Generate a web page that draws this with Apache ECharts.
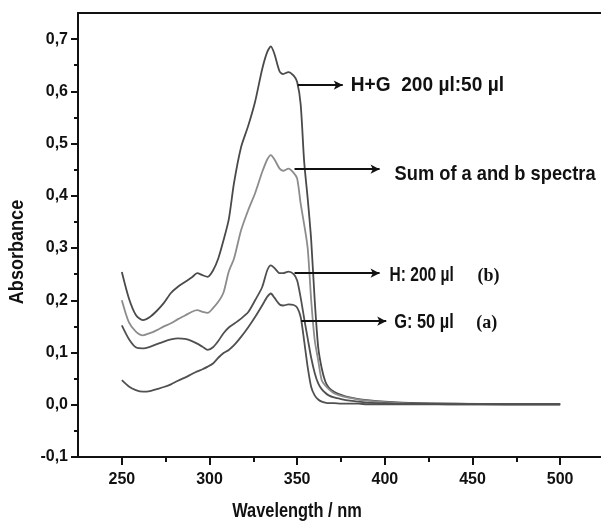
<!DOCTYPE html>
<html>
<head>
<meta charset="utf-8">
<script src="https://cdn.jsdelivr.net/npm/echarts@6/dist/echarts.min.js"></script>
<style>html,body{margin:0;padding:0;background:#fff}#c{width:601px;height:521px}</style>
</head>
<body>
<div id="c"></div>
<script>
// Wavelength grid (nm)
const wavelength = [250,254,258,262,266,270,274,278,282,286,290,293,296,299,302,305,308,311,314,318,322,326,330,333,335,337,340,342,345,348,350,352,354,356,358,360,362,364,366,368,371,375,380,385,390,400,410,420,440,470,500];
// H+G 200 µl:50 µl
const absHG = [0.254,0.204,0.172,0.162,0.168,0.180,0.195,0.214,0.226,0.235,0.244,0.252,0.248,0.245,0.257,0.280,0.315,0.355,0.425,0.493,0.533,0.580,0.642,0.676,0.686,0.672,0.638,0.633,0.637,0.630,0.618,0.575,0.465,0.395,0.315,0.200,0.110,0.070,0.045,0.033,0.025,0.019,0.014,0.011,0.009,0.006,0.004,0.003,0.002,0.001,0.001];
// Sum of a and b spectra
const absSum = [0.200,0.158,0.140,0.133,0.137,0.143,0.150,0.156,0.164,0.171,0.178,0.181,0.178,0.176,0.185,0.197,0.215,0.255,0.280,0.334,0.372,0.405,0.445,0.470,0.478,0.470,0.452,0.448,0.452,0.444,0.433,0.385,0.345,0.300,0.200,0.124,0.085,0.047,0.037,0.030,0.022,0.017,0.013,0.010,0.008,0.005,0.003,0.002,0.002,0.001,0.001];
// H: 200 µl (b)
const absH = [0.152,0.126,0.110,0.108,0.111,0.116,0.121,0.125,0.127,0.126,0.122,0.117,0.111,0.105,0.110,0.122,0.137,0.148,0.155,0.165,0.177,0.200,0.225,0.258,0.267,0.262,0.252,0.252,0.255,0.250,0.238,0.205,0.165,0.127,0.090,0.061,0.041,0.030,0.023,0.018,0.014,0.011,0.008,0.006,0.004,0.003,0.002,0.002,0.001,0.001,0.001];
// G: 50 µl (a)
const absG = [0.047,0.035,0.028,0.025,0.026,0.030,0.034,0.039,0.046,0.052,0.059,0.064,0.068,0.073,0.079,0.090,0.099,0.105,0.114,0.130,0.148,0.168,0.190,0.207,0.213,0.205,0.192,0.190,0.192,0.191,0.186,0.168,0.122,0.072,0.034,0.018,0.010,0.006,0.004,0.003,0.003,0.002,0.002,0.002,0.001,0.001,0.001,0.001,0.001,0.001,0.001];

// Tick values
const xMajorTicks = [250,300,350,400,450,500];
const xMinorTicks = [275,325,375,425,475,525];
const yMajorTicks = [-0.1,0.0,0.1,0.2,0.3,0.4,0.5,0.6,0.7];
const yMinorTicks = [-0.05,0.05,0.15,0.25,0.35,0.45,0.55,0.65];

// Annotation texts and arrows: [start wavelength, end wavelength, absorbance]
const annTexts = ['H+G  200 µl:50 µl', 'Sum of a and b spectra', 'H: 200 µl', 'G: 50 µl'];
const annTags  = ['', '', '(b)', '(a)'];
const annHG  = [350.3, 376.0, 0.612];
const annSum = [348.5, 397.0, 0.451];
const annH   = [348.5, 397.0, 0.252];
const annG   = [352.3, 400.8, 0.160];

const SANS = "'Liberation Sans',Arial,Helvetica,sans-serif";
const SERIF = "'Liberation Serif','Times New Roman',serif";

function pairs(ys){ return wavelength.map((w,i)=>[w, ys[i]]); }

function arrow(a){
  return {
    silent: true,
    symbol: ['none','arrow'],
    symbolSize: [7, 9],
    animation: false,
    label: { show: false },
    lineStyle: { color: '#111', width: 2, type: 'solid' },
    data: [[ { coord: [a[0], a[2]] }, { coord: [a[1], a[2]] } ]]
  };
}

const chart = echarts.init(document.getElementById('c'), null, { renderer: 'canvas' });

const lineSeries = (name, ys, color, ml) => ({
  name, type: 'line', data: pairs(ys), showSymbol: false, smooth: 0.25,
  lineStyle: { color, width: 1.8 }, itemStyle: { color }, animation: false,
  xAxisIndex: 0, yAxisIndex: 0, markLine: ml, z: 3
});

const axisFont = { fontFamily: SANS, fontWeight: 'bold', fontSize: 16, color: '#111' };

chart.setOption({
  backgroundColor: '#fff',
  animation: false,
  grid: { left: 78, top: 13, right: -3, bottom: 64, show: true, borderColor: '#111', borderWidth: 2, containLabel: false, outerBoundsMode: 'none' },
  xAxis: [
    { type: 'value', min: 225, max: 525, position: 'bottom',
      axisLine: { show: true, onZero: false, lineStyle: { color: '#111', width: 2 } },
      axisTick: { show: true, customValues: xMajorTicks, length: 8, lineStyle: { color: '#111', width: 2 } },
      axisLabel: Object.assign({ customValues: xMajorTicks, margin: 15 }, axisFont),
      splitLine: { show: false } },
    { type: 'value', min: 225, max: 525, position: 'bottom',
      axisLine: { show: false, onZero: false },
      axisTick: { show: true, customValues: xMinorTicks, length: 5, lineStyle: { color: '#111', width: 2 } },
      axisLabel: { show: false }, splitLine: { show: false } }
  ],
  yAxis: [
    { type: 'value', min: -0.1, max: 0.75, position: 'left',
      axisLine: { show: true, onZero: false, lineStyle: { color: '#111', width: 2 } },
      axisTick: { show: true, customValues: yMajorTicks, length: 7, lineStyle: { color: '#111', width: 2 } },
      axisLabel: Object.assign({ customValues: yMajorTicks, margin: 10,
        formatter: v => v.toFixed(1).replace('.', ',') }, axisFont),
      splitLine: { show: false } },
    { type: 'value', min: -0.1, max: 0.75, position: 'left',
      axisLine: { show: false, onZero: false },
      axisTick: { show: true, customValues: yMinorTicks, length: 4, lineStyle: { color: '#111', width: 2 } },
      axisLabel: { show: false }, splitLine: { show: false } }
  ],
  series: [
    lineSeries('H+G 200 µl:50 µl', absHG, '#4a4a4a', arrow(annHG)),
    lineSeries('Sum of a and b spectra', absSum, '#8c8c8c', arrow(annSum)),
    lineSeries('H: 200 µl (b)', absH, '#505050', arrow(annH)),
    lineSeries('G: 50 µl (a)', absG, '#505050', arrow(annG))
  ]
});

// Condensed-looking text labels placed relative to the arrow ends (computed through the axes)
const anns = [annHG, annSum, annH, annG];
const gapX  = [8, 15, 10, 8];
const dY    = [0, 5, 2, 1];
const scl   = [0.91, 0.87, 0.74, 0.78];
const tagDx = [0, 0, 98, 90];
const graphics = [];
anns.forEach((a, i) => {
  const p = chart.convertToPixel({ xAxisIndex: 0, yAxisIndex: 0 }, [a[1], a[2]]);
  graphics.push({ type: 'text', x: p[0] + gapX[i], y: p[1] + dY[i], scaleX: scl[i], z: 10,
    style: { text: annTexts[i], fontFamily: SANS, fontWeight: 'bold', fontSize: 21, fill: '#111', align: 'left', verticalAlign: 'middle' } });
  if (annTags[i]) {
    graphics.push({ type: 'text', x: p[0] + tagDx[i], y: p[1] + dY[i] + 1, z: 10,
      style: { text: annTags[i], fontFamily: SERIF, fontWeight: 'bold', fontSize: 18, fill: '#111', align: 'left', verticalAlign: 'middle' } });
  }
});
graphics.push({ type: 'text', x: 17, y: 252, rotation: Math.PI / 2, scaleX: 0.86,
  style: { text: 'Absorbance', fontFamily: SANS, fontWeight: 'bold', fontSize: 21, fill: '#111', align: 'center', verticalAlign: 'middle' } });
graphics.push({ type: 'text', x: 297, y: 511, scaleX: 0.78,
  style: { text: 'Wavelength / nm', fontFamily: SANS, fontWeight: 'bold', fontSize: 21, fill: '#111', align: 'center', verticalAlign: 'middle' } });
chart.setOption({ graphic: graphics });
</script>
</body>
</html>
